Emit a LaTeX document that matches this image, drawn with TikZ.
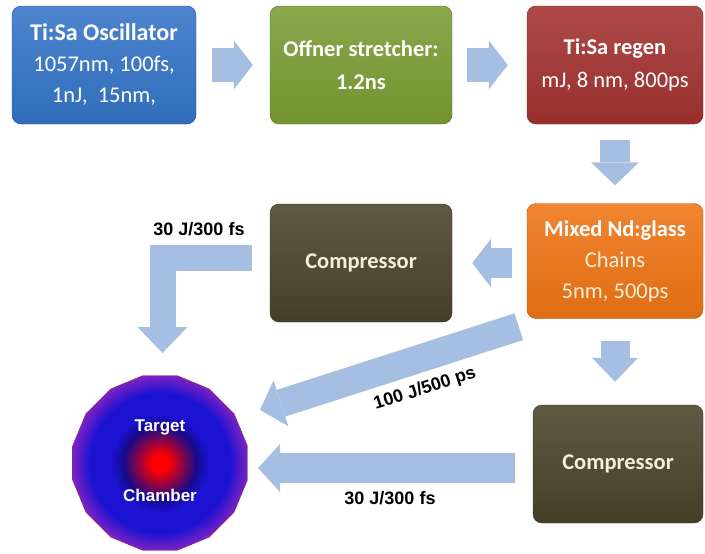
\documentclass[tikz,border=0pt]{standalone}
\usepackage{fontspec}
\setmainfont{Carlito}
\newfontfamily\labelfont{Liberation Sans}
\usetikzlibrary{arrows.meta,shapes.geometric,calc}

\definecolor{oscblue}{RGB}{52,116,198}
\definecolor{offgreen}{RGB}{122,156,52}
\definecolor{regenred}{RGB}{162,50,48}
\definecolor{ndorange}{RGB}{238,116,20}
\definecolor{compolive}{RGB}{74,66,42}
\definecolor{beamblue}{RGB}{166,190,226}
\definecolor{cream}{RGB}{246,238,215}
\definecolor{chamberrim}{RGB}{140,40,110}
\definecolor{coreRed}{RGB}{255,0,0}
\definecolor{deepBlue}{RGB}{20,10,140}
\definecolor{midBlue}{RGB}{28,18,210}
\definecolor{rimPurple}{RGB}{140,36,190}

\pgfdeclareradialshading{chambershade}{\pgfpoint{0bp}{0bp}}{%
  color(0bp)=(coreRed); color(2.5bp)=(coreRed); color(10.5bp)=(deepBlue);
  color(14bp)=(midBlue); color(20bp)=(midBlue); color(26bp)=(rimPurple);
  color(50bp)=(rimPurple)}

\tikzset{
  stage/.style={rounded corners=9pt, draw=#1!75!black, top color=#1!88!white,
    bottom color=#1!94!black, text=white, align=center, inner sep=0pt,
    minimum width=182pt, minimum height=118pt,
    font=\fontsize{22.5}{31}\selectfont},
  beam/.style n args={3}{draw=beamblue, line width=#1,
    -{Triangle[length=#2, width=#3, line width=0pt]}},
  tag/.style={font=\labelfont\bfseries\fontsize{18}{20}\selectfont}
}

\begin{document}
\begin{tikzpicture}[x=1pt,y=-1pt]
\useasboundingbox (0,0) rectangle (705,554);

% stages
\node[stage=oscblue, minimum width=184pt] (osc) at (104,65)
  {\textbf{\fontsize{24}{31}\selectfont Ti:Sa Oscillator}\\1057nm, 100fs,\\1nJ,\ \ 15nm,};
\node[stage=offgreen] (offner) at (361,65)
  {\textbf{Offner stretcher:}\\[2pt]\textbf{1.2ns}};
\node[stage=regenred, minimum width=176pt] (regen) at (615,65)
  {\textbf{Ti:Sa regen}\\[2pt]mJ, 8 nm, 800ps};
\node[stage=ndorange, minimum width=176pt, minimum height=115pt] (mixed) at (615,261)
  {\textbf{Mixed Nd:glass}\\\color{cream}Chains\\\color{cream}5nm, 500ps};
\node[stage=compolive, text=cream] (comp1) at (361,263) {\textbf{Compressor}};
\node[stage=compolive, text=cream, minimum width=170pt] (comp2) at (618,464) {\textbf{Compressor}};

% target chamber
\node[regular polygon, regular polygon sides=16, minimum size=178pt, inner sep=0pt,
  draw=chamberrim, shading=chambershade] (chamber) at (160,463) {};
\node[font=\labelfont\bfseries\fontsize{17}{20}\selectfont, text=white] (tgt)
  at ($(chamber.center)+(0,-36)$) {Target};
\node[font=\labelfont\bfseries\fontsize{17}{20}\selectfont, text=white] (chb)
  at ($(chamber.center)+(0,32)$) {Chamber};

% beam arrows
\draw[beam={34pt}{19pt}{49pt}, shorten <=16pt, shorten >=17pt] (osc.east) -- (offner.west);
\draw[beam={34pt}{19pt}{49pt}, shorten <=15pt, shorten >=19pt] (offner.east) -- (regen.west);
\draw[beam={30pt}{23pt}{48pt}, shorten <=16pt, shorten >=18pt] (regen.south) -- (regen.south |- mixed.north);
\draw[beam={30pt}{19pt}{49pt}, shorten <=15pt, shorten >=20pt] (mixed.west |- comp1.east) -- (comp1.east);
\draw[beam={29pt}{24pt}{46pt}, shorten <=22pt, shorten >=23pt] (mixed.south) -- (mixed.south |- comp2.north);
\draw[beam={26pt}{26pt}{50pt}, line join=miter] ($(comp1.west)+(-18,-5)$) -| ($(chamber.center)+(2.5,-110)$);
\draw[beam={28pt}{22pt}{48pt}] ($(mixed.south west)+(-8,8)$) -- ($(chamber.center)+(100,-53)$);
\draw[beam={30pt}{22pt}{48pt}] ($(comp2.west)+(-18,4)$) -- ($(chamber.center)+(98,5)$);

% pulse labels
\node[tag] (l1) at (199,229) {30 J/300 fs};
\node[tag, rotate=18] (l2) at (425,389) {100 J/500 ps};
\node[tag] (l3) at (390,498) {30 J/300 fs};
\end{tikzpicture}
\end{document}
